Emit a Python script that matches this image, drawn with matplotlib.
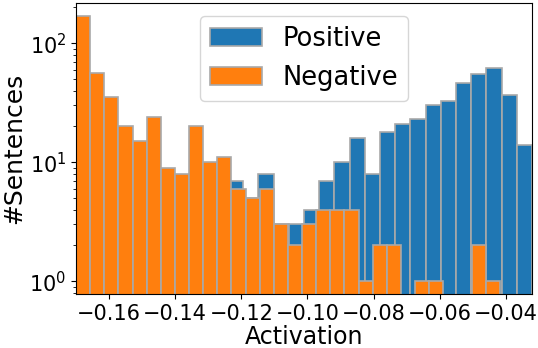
import numpy as np
import matplotlib
matplotlib.use('Agg')
import matplotlib.pyplot as plt

# histogram counts per bin (30 bins each)
pos_counts = [3, 3, 1, 4, 4, 5, 4, 4, 5, 5, 7, 5, 8, 3, 3,
              4, 7, 10, 16, 8, 18, 21, 23, 30, 33, 46, 55, 62, 37, 14]
neg_counts = [168, 56, 35, 20, 15, 24, 9, 8, 20, 10, 11, 6, 5, 6, 3,
              2, 3, 4, 4, 4, 1, 2, 2, 0, 1, 1, 0, 0, 2, 1]
pos_range = (-0.1700, -0.0321)
neg_range = (-0.1700, -0.0418)
labels = ['Positive', 'Negative']

n_bins = len(pos_counts)
pos_edges = np.linspace(pos_range[0], pos_range[1], n_bins + 1)
neg_edges = np.linspace(neg_range[0], neg_range[1], n_bins + 1)

fig = plt.figure(figsize=(5.38, 3.48), dpi=100)
ax = fig.add_axes([0.1413, 0.155, 0.8475, 0.8365])

ax.hist(pos_edges[:-1], bins=pos_edges, weights=pos_counts, log=True,
        color='#1f77b4', edgecolor='darkgray', linewidth=1.2, label=labels[0])
ax.hist(neg_edges[:-1], bins=neg_edges, weights=neg_counts, log=True,
        color='#ff7f0e', edgecolor='darkgray', linewidth=1.2, label=labels[1])

ax.set_xlim(pos_range[0], pos_range[1])
ax.set_ylim(0.78, 218)
ax.tick_params(axis='both', labelsize=15)
ax.set_xlabel('Activation', fontsize=17, labelpad=1)
ax.set_ylabel('#Sentences', fontsize=18, labelpad=2)
ax.legend(loc='upper center', fontsize=18.5)

fig.savefig('out.png', dpi=100)
